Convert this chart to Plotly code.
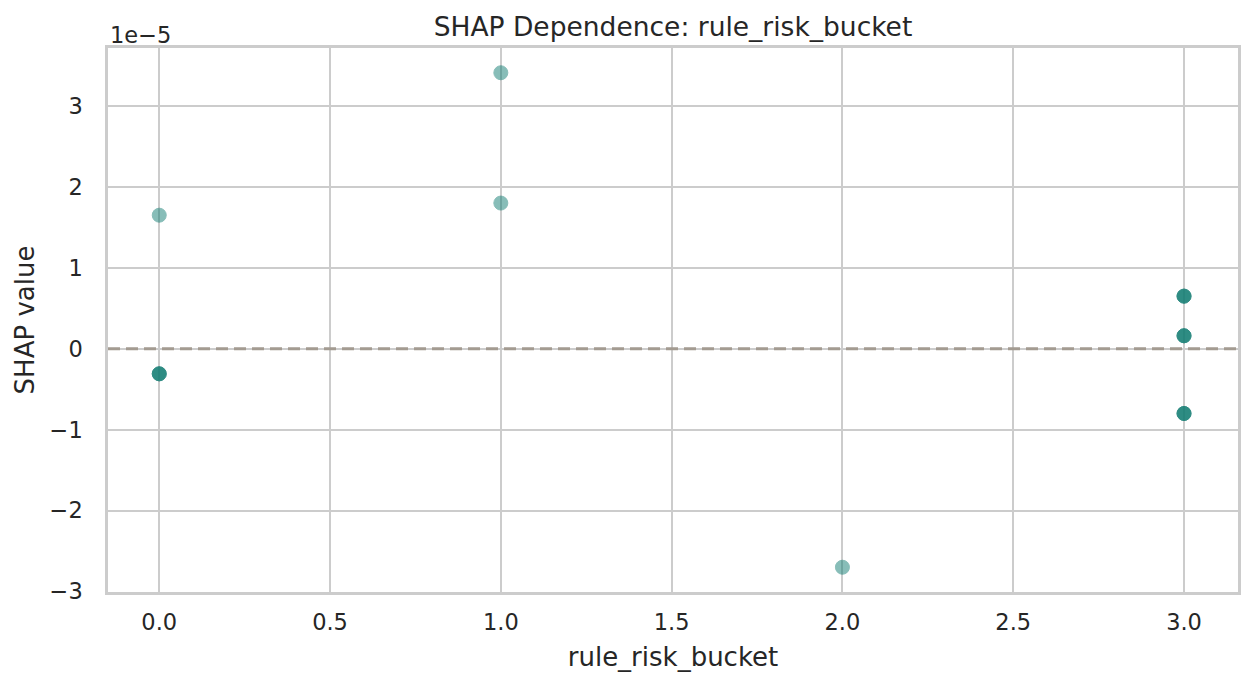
import plotly.graph_objects as go

# feature value per sample and its SHAP value (clusters at the same spot are repeated)
feature_values = [0, 0, 0, 0, 1, 1, 2, 3, 3, 3, 3, 3, 3, 3, 3, 3]
shap_values = [1.65e-5, -0.31e-5, -0.31e-5, -0.31e-5, 3.41e-5, 1.80e-5, -2.70e-5,
               0.65e-5, 0.65e-5, 0.65e-5, 0.16e-5, 0.16e-5, 0.16e-5,
               -0.80e-5, -0.80e-5, -0.80e-5]
x_ticks = [0.0, 0.5, 1.0, 1.5, 2.0, 2.5, 3.0]
y_ticks = [-3, -2, -1, 0, 1, 2, 3]
scale = 1e-5

feature = "rule_risk_bucket"
teal = "#127d73"
grid = "#cccccc"
text_color = "#262626"
font_family = "DejaVu Sans"

fig = go.Figure()

fig.add_trace(go.Scatter(
    x=feature_values,
    y=[v / scale for v in shap_values],
    mode="markers",
    marker=dict(size=14, color=teal, opacity=0.5, line=dict(width=1, color=teal)),
    showlegend=False,
))

# zero reference line
fig.add_hline(y=0, line=dict(color="rgb(163,155,145)", width=3, dash="12px,6px"))

# page body has an 8px margin, so the figure is made to fit inside it
fig.update_layout(
    width=1235,
    height=672,
    paper_bgcolor="white",
    plot_bgcolor="white",
    margin=dict(l=100, r=5, t=40, b=88),
    font=dict(family=font_family, size=22, color=text_color),
    title=dict(
        text="SHAP Dependence: " + feature,
        x=0.5, xref="paper", xanchor="center",
        y=1 - 19 / 672, yref="container", yanchor="middle",
        font=dict(size=26.5, color=text_color),
    ),
    xaxis=dict(
        range=[-0.15, 3.158],
        tickvals=x_ticks,
        tickformat=".1f",
        tickfont=dict(size=22.5, color=text_color),
        showgrid=True, gridcolor=grid, gridwidth=1.5,
        zeroline=False,
        showline=True, linecolor=grid, linewidth=2.5, mirror=True,
        ticks="", ticklabelstandoff=8,
        title=dict(text=feature, font=dict(size=26), standoff=15),
        automargin=False,
    ),
    yaxis=dict(
        range=[-3.006, 3.716],
        tickvals=y_ticks,
        tickfont=dict(size=22.5, color=text_color),
        showgrid=True, gridcolor=grid, gridwidth=1.5,
        zeroline=False,
        showline=True, linecolor=grid, linewidth=2.5, mirror=True,
        ticks="", ticklabelstandoff=18,
        title=dict(text="SHAP value", font=dict(size=26), standoff=8),
        automargin=False,
    ),
    annotations=[dict(
        text="1e\u22125", xref="paper", yref="paper", x=0, y=1,
        xanchor="left", yanchor="bottom", showarrow=False, yshift=-2,
        font=dict(size=22.5, color=text_color),
    )],
)

fig.write_html("out.html")
